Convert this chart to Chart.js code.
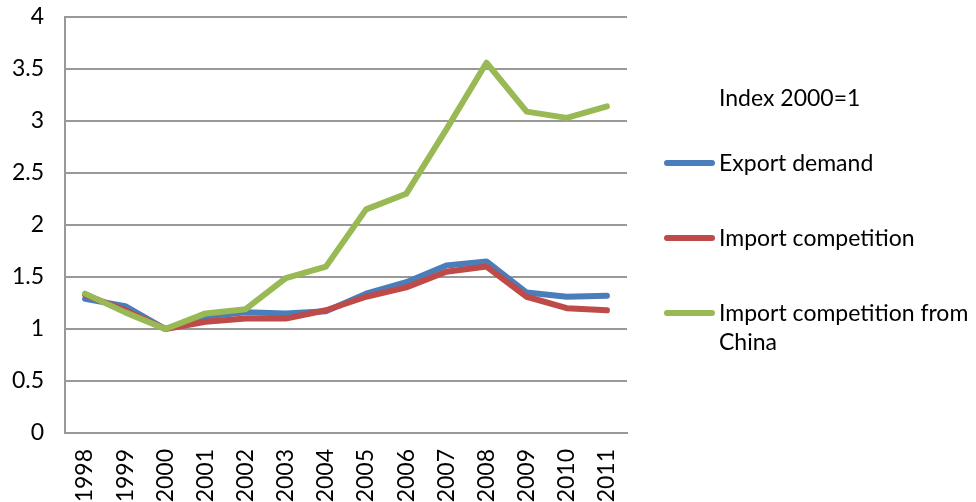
<!DOCTYPE html>
<html>
<head>
<meta charset="utf-8">
<script src="https://cdn.jsdelivr.net/npm/chart.js@4/dist/chart.umd.min.js"></script>
<style>
  html, body { margin: 0; padding: 0; background: #fff; }
  #wrap { position: relative; width: 976px; height: 502px; }
  canvas { position: absolute; left: 0; top: 0; }
  .lg { position: absolute; font-family: Lato, "Open Sans", sans-serif; font-size: 23px; color: #000; line-height: 29px; white-space: nowrap; }
  .sw { position: absolute; height: 6px; width: 51px; border-radius: 3px; }
</style>
</head>
<body>
<div id="wrap">
  <canvas id="c" width="976" height="502"></canvas>
  <div class="lg" style="left:719px; top:83px;">Index 2000=1</div>
  <div class="sw" id="sw0" style="left:664px; top:160px;"></div>
  <div class="lg" id="lg0" style="left:719px; top:148px;"></div>
  <div class="sw" id="sw1" style="left:664px; top:235px;"></div>
  <div class="lg" id="lg1" style="left:719px; top:223px;"></div>
  <div class="sw" id="sw2" style="left:664px; top:310px;"></div>
  <div class="lg" id="lg2" style="left:719px; top:298px; white-space: normal; width: 257px;"></div>
</div>
<script>
const years = ['1998','1999','2000','2001','2002','2003','2004','2005','2006','2007','2008','2009','2010','2011'];
const exportDemand = [1.29, 1.22, 1.00, 1.12, 1.16, 1.15, 1.17, 1.34, 1.45, 1.61, 1.65, 1.35, 1.31, 1.32];
const importCompetition = [1.33, 1.18, 1.00, 1.07, 1.10, 1.10, 1.18, 1.31, 1.40, 1.55, 1.60, 1.31, 1.20, 1.18];
const importChina = [1.34, 1.16, 1.00, 1.15, 1.19, 1.49, 1.60, 2.15, 2.30, 2.92, 3.56, 3.09, 3.03, 3.14];
const seriesNames = ['Export demand', 'Import competition', 'Import competition from China'];
const seriesColors = ['#4A7EBB', '#BE4B48', '#98B954'];
const yTicks = [0, 0.5, 1, 1.5, 2, 2.5, 3, 3.5, 4];
const yTickLabels = ['0', '0.5', '1', '1.5', '2', '2.5', '3', '3.5', '4'];

const seriesData = [exportDemand, importCompetition, importChina];
seriesNames.forEach((n, i) => {
  document.getElementById('lg' + i).textContent = n;
  document.getElementById('sw' + i).style.background = seriesColors[i];
});

const FONT = { family: 'Lato, "Open Sans", sans-serif', size: 23 };

new Chart(document.getElementById('c'), {
  type: 'line',
  data: {
    labels: years,
    datasets: seriesNames.map((n, i) => ({
      label: n,
      data: seriesData[i],
      borderColor: seriesColors[i],
      backgroundColor: seriesColors[i],
      borderWidth: 6,
      pointRadius: 0,
      tension: 0,
      borderJoinStyle: 'round',
      borderCapStyle: 'round',
      fill: false,
      order: 2 - i
    }))
  },
  options: {
    responsive: false,
    animation: false,
    layout: { padding: { left: 0, right: 349, top: 17, bottom: 0 } },
    plugins: { legend: { display: false }, tooltip: { enabled: false } },
    scales: {
      x: {
        offset: true,
        grid: { display: false, drawTicks: false },
        border: { display: true, color: '#999', width: 2 },
        ticks: { color: '#000', font: FONT, maxRotation: 90, minRotation: 90, padding: 16, autoSkip: false },
        afterFit: s => { s.height = 502 - 433; s.paddingLeft = 0; s.paddingRight = 0; }
      },
      y: {
        min: 0, max: 4,
        afterBuildTicks: s => { s.ticks = yTicks.map(v => ({ value: v })); },
        grid: { color: '#999', lineWidth: 2, drawTicks: false },
        border: { display: true, color: '#999', width: 2 },
        ticks: { color: '#000', font: FONT, padding: 21,
                 callback: (v, idx) => yTickLabels[idx] },
        afterFit: s => { s.width = 65; s.paddingTop = 0; s.paddingBottom = 0; }
      }
    }
  }
});
</script>
</body>
</html>
